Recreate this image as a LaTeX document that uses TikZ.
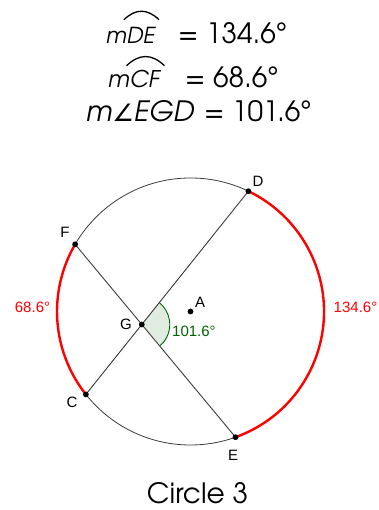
\documentclass[tikz,border=0pt]{standalone}
\usepackage{fontspec}
\usepackage{pict2e}
\usetikzlibrary{angles,calc}
\setmainfont{Liberation Sans}
\newfontfamily\eqfont{TeX Gyre Adventor}
\newfontfamily\anglefont{DejaVu Sans}[FakeSlant=0.12]
\definecolor{ggred}{RGB}{255,0,0}
\definecolor{gggreen}{RGB}{0,100,0}
\definecolor{ggline}{RGB}{60,60,60}
\newcommand\arcover[2]{%
  \leavevmode\setbox0=\hbox{#2}%
  \rlap{\raisebox{\dimexpr\ht0+#1\relax}{\setlength{\unitlength}{0.01\wd0}\linethickness{1.3pt}%
    \begin{picture}(100,0)\qbezier(-10,0)(50,58)(110,0)\end{picture}}}%
  \box0}
\begin{document}
\begin{tikzpicture}[x=1pt,y=1pt,
  font=\fontsize{15}{18}\selectfont,
  eq/.style={font=\eqfont\fontsize{28}{32}\selectfont, inner sep=0pt},
  eqsmall/.style={font=\eqfont\fontsize{#1}{26}\selectfont, inner sep=0pt},
  lbl/.style={inner sep=0pt},
  chord/.style={draw=ggline, line width=0.9pt},
  circ/.style={draw=ggline, line width=0.8pt},
  redarc/.style={draw=ggred, line width=2.4pt},
  dot/.style={circle, fill=black, inner sep=0pt, minimum size=5.8pt}]
\useasboundingbox (0,0) rectangle (379,510);
% equations
\node[eqsmall=22, anchor=base west] (eq1l) at (106,466) {\textit{m}\arcover{8pt}{\textit{DE}}};
\node[eq, anchor=base west] (eq1r) at (178,466) {= 134.6°};
\node[eqsmall=23, anchor=base west] (eq2l) at (108,422) {\textit{m}\arcover{5pt}{\textit{CF}}};
\node[eq, anchor=base west] (eq2r) at (185,422) {= 68.6°};
\node[eq, anchor=base west] (eq3l) at (86,388) {\textit{m}{\anglefont\fontsize{24}{28}\selectfont ∠}\textit{EGD}};
\node[eq, anchor=base west] (eq3r) at (204,388) {= 101.6°};
% geometry
\coordinate (A) at (190.5,198.5);
\coordinate (D) at ($(A)+(64.3:133.5)$);
\coordinate (E) at ($(A)+(-70.3:133.5)$);
\coordinate (F) at ($(A)+(149.8:133.5)$);
\coordinate (C) at ($(A)+(218.4:133.5)$);
\coordinate (G) at (intersection of D--C and F--E);
\pic[draw=gggreen, line width=0.9pt, fill=gggreen, fill opacity=0.12, angle radius=28pt] {angle=E--G--D};
\draw[circ] (A) circle (133.5);
\draw[redarc] (E) arc[start angle=-70.3, end angle=64.3, radius=133.5];
\draw[redarc] (F) arc[start angle=149.8, end angle=218.4, radius=133.5];
\draw[chord] (D) -- (C);
\draw[chord] (F) -- (E);
\node[dot] (pA) at (A) {};
\node[dot] (pD) at (D) {};
\node[dot] (pE) at (E) {};
\node[dot] (pF) at (F) {};
\node[dot] (pC) at (C) {};
\node[dot] (pG) at (G) {};
% labels
\node[lbl] (lD) at (258,329) {D};
\node[lbl] (lF) at (65,278) {F};
\node[lbl] (lG) at (126,186) {G};
\node[lbl] (lA) at (200,208) {A};
\node[lbl] (lC) at (72,108) {C};
\node[lbl] (lE) at (233,55) {E};
\node[lbl, text=gggreen, anchor=west] (ang) at (172,178.3) {101.6°};
\node[lbl, text=ggred] (arcCF) at (32.5,202.5) {68.6°};
\node[lbl, text=ggred] (arcDE) at (355.5,202.5) {134.6°};
\node[eq, anchor=base] (title) at (197.5,6.5) {Circle 3};
\end{tikzpicture}
\end{document}
